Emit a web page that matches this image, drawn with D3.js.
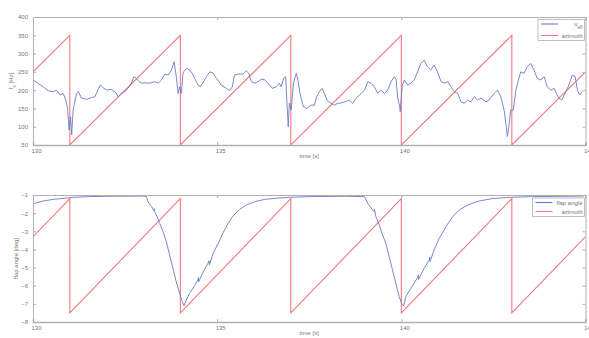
<!DOCTYPE html>
<html>
<head>
<meta charset="utf-8">
<script src="https://cdn.jsdelivr.net/npm/d3@7"></script>
<style>
  body { margin: 0; background: #fff; }
  svg { display: block; font-family: "Liberation Sans", Arial, sans-serif; }
  .tick text { fill: #777; font-size: 6px; }
  .lbl { fill: #777; font-size: 6px; }
</style>
</head>
<body>
<div id="chart"></div>
<script>
// ---- data ----
var xTicks = [130, 135, 140, 145];
var topYTicks = [50, 100, 150, 200, 250, 300, 350, 400];
var bottomYTicks = [-8, -7, -6, -5, -4, -3, -2, -1];

// azimuth sawtooth, breakpoints
var azTime = [130, 131, 131, 134, 134, 137, 137, 140, 140, 143, 143, 145];
var azTop = [250, 350, 50, 350, 50, 350, 50, 350, 50, 350, 50, 250];
var azBottom = [-3.3, -1.2, -7.5, -1.2, -7.5, -1.2, -7.5, -1.2, -7.5, -1.2, -7.5, -3.3];

var uTime = [130.01,130.14,130.28,130.41,130.55,130.64,130.73,130.82,130.89,130.94,130.98,131.02,131.05,131.09,131.18,131.23,131.32,131.46,131.59,131.68,131.77,131.83,131.92,132.01,132.13,132.25,132.31,132.40,132.49,132.58,132.67,132.74,132.81,132.88,132.95,133.04,133.17,133.31,133.40,133.49,133.58,133.67,133.76,133.83,133.89,133.94,133.98,134.03,134.07,134.09,134.18,134.30,134.39,134.48,134.54,134.63,134.71,134.80,134.89,134.98,135.05,135.11,135.25,135.34,135.41,135.47,135.56,135.70,135.79,135.86,135.93,136.02,136.11,136.20,136.29,136.38,136.50,136.60,136.69,136.74,136.80,136.86,136.89,136.93,136.96,137.01,137.07,137.15,137.19,137.25,137.34,137.43,137.55,137.64,137.70,137.78,137.85,137.91,137.98,138.09,138.18,138.27,138.32,138.46,138.59,138.68,138.77,138.91,139.00,139.09,139.18,139.27,139.36,139.45,139.54,139.63,139.72,139.81,139.86,139.90,139.95,139.97,140.02,140.08,140.17,140.26,140.35,140.44,140.53,140.62,140.71,140.80,140.89,140.98,141.08,141.17,141.26,141.35,141.44,141.53,141.62,141.71,141.80,141.89,141.98,142.07,142.16,142.30,142.38,142.52,142.61,142.70,142.79,142.85,142.88,142.93,142.97,143.04,143.11,143.18,143.24,143.33,143.42,143.51,143.60,143.69,143.79,143.88,143.96,144.06,144.15,144.21,144.28,144.36,144.44,144.53,144.64,144.72,144.78,144.84,144.91];
var uEff = [228,218,209,198,196,200,187,191,173,150,91,127,78,146,191,196,178,175,180,182,202,214,205,200,202,193,182,191,196,205,219,237,232,223,219,220,219,223,219,228,244,241,255,278,237,191,209,191,246,250,260,250,232,214,209,223,237,250,246,232,223,214,205,198,209,241,244,244,253,246,223,219,223,230,228,219,205,209,219,209,232,237,173,100,164,146,219,246,228,191,155,150,159,159,182,196,205,191,173,164,159,164,164,168,173,164,178,191,200,223,219,209,191,200,191,200,223,237,228,178,159,141,209,228,214,219,228,250,273,282,264,255,269,250,223,219,223,209,196,191,168,164,173,168,182,173,178,168,173,191,200,182,146,100,73,109,146,146,200,228,250,246,264,273,255,232,228,237,209,200,205,191,178,173,191,209,241,237,200,187,196];

var flapTime = [130.04,130.28,130.55,130.91,131.09,131.5,132.0,133.0,133.08,133.12,133.22,133.28,133.29,133.30,133.35,133.44,133.53,133.62,133.71,133.80,133.89,133.98,134.05,134.10,134.16,134.25,134.39,134.48,134.49,134.50,134.62,134.75,134.78,134.79,134.89,135.03,135.16,135.30,135.43,135.61,135.79,136.02,136.29,136.60,136.96,137.5,138.5,139.0,139.09,139.22,139.26,139.27,139.31,139.40,139.49,139.58,139.67,139.76,139.85,139.94,140.03,140.06,140.08,140.12,140.26,140.44,140.46,140.47,140.62,140.76,140.77,140.78,140.89,141.03,141.21,141.39,141.57,141.80,142.11,142.47,142.93,143.56,144.95];
var flapAngle = [-1.46,-1.33,-1.24,-1.17,-1.13,-1.09,-1.07,-1.06,-1.09,-1.37,-1.64,-1.86,-1.76,-1.92,-2.1,-2.56,-3.02,-3.57,-4.31,-5.04,-5.78,-6.42,-6.88,-7.1,-6.79,-6.42,-6.0,-5.69,-5.55,-5.78,-5.23,-4.77,-4.62,-4.85,-4.22,-3.66,-3.08,-2.56,-2.16,-1.79,-1.55,-1.37,-1.24,-1.18,-1.13,-1.09,-1.07,-1.09,-1.46,-1.83,-1.9,-1.78,-2.2,-2.65,-3.2,-3.66,-4.4,-5.13,-5.87,-6.6,-7.06,-7.12,-7.0,-6.6,-6.14,-5.55,-5.4,-5.65,-5.04,-4.58,-4.42,-4.66,-4.03,-3.39,-2.75,-2.2,-1.83,-1.55,-1.33,-1.2,-1.13,-1.09,-1.06];

var W = 589, H = 338;
var blue = "#6a7bc4", red = "#f37880", frame = "#b0b0b0";

var svg = d3.select("#chart").append("svg")
  .attr("width", W).attr("height", H);

var x = d3.scaleLinear().domain([130, 145]).range([33, 585.5]);

function drawPanel(id, top, bottom, yDomain, yTicks, series, yLabel, legendItems, legendBox) {
  var y = d3.scaleLinear().domain(yDomain).range([bottom, top]);
  var g = svg.append("g");

  g.append("clipPath").attr("id", id)
    .append("rect").attr("x", x.range()[0]).attr("y", top - 1)
    .attr("width", x.range()[1] - x.range()[0]).attr("height", bottom - top + 2);

  var line = d3.line().x(d => x(d[0])).y(d => y(d[1]));
  series.forEach(s => {
    g.append("path")
      .datum(d3.zip(s.t, s.v))
      .attr("clip-path", "url(#" + id + ")")
      .style("fill", "none")
      .style("stroke", s.color)
      .style("stroke-width", s.width)
      .attr("d", line);
  });

  // axes, ticks inward on all sides
  var ax = g.append("g").attr("transform", "translate(0," + bottom + ")")
    .call(d3.axisBottom(x).tickValues(xTicks).tickSize(-3).tickPadding(4).tickFormat(d3.format("d")));
  var axT = g.append("g").attr("transform", "translate(0," + top + ")")
    .call(d3.axisTop(x).tickValues(xTicks).tickSize(-3).tickFormat(""));
  var ay = g.append("g").attr("transform", "translate(" + x.range()[0] + ",0)")
    .call(d3.axisLeft(y).tickValues(yTicks).tickSize(-3).tickPadding(5).tickFormat(d3.format("d")));
  var ayR = g.append("g").attr("transform", "translate(" + x.range()[1] + ",0)")
    .call(d3.axisRight(y).tickValues(yTicks).tickSize(-3).tickFormat(""));
  [ax, axT, ay, ayR].forEach(a => {
    a.select(".domain").attr("stroke", frame);
    a.selectAll(".tick line").attr("stroke", frame);
  });
  ax.select(".domain").attr("stroke-width", 1.5);
  ax.selectAll(".tick text").attr("dx", 3);

  g.append("text").attr("class", "lbl")
    .attr("x", (x.range()[0] + x.range()[1]) / 2).attr("y", bottom + 13)
    .attr("text-anchor", "middle").text("time [s]");

  var yl = g.append("text").attr("class", "lbl")
    .attr("transform", "translate(" + yLabel.x + "," + (top + bottom) / 2 + ") rotate(-90)")
    .attr("text-anchor", "middle");
  yLabel.parts.forEach(p => {
    var ts = yl.append("tspan").text(p.text);
    if (p.sub) ts.attr("baseline-shift", "sub").attr("font-size", "4.5px");
  });

  // legend
  var lg = g.append("g");
  lg.append("rect").attr("x", legendBox.x).attr("y", legendBox.y)
    .attr("width", legendBox.w).attr("height", legendBox.h)
    .attr("fill", "#fff").attr("stroke", frame).attr("stroke-width", 0.8);
  legendItems.forEach((it, i) => {
    var ly = legendBox.y + 4.5 + i * legendBox.step;
    lg.append("line").attr("x1", legendBox.x + 3).attr("x2", legendBox.x + 20)
      .attr("y1", ly).attr("y2", ly).style("stroke", it.color).style("stroke-width", 1.1);
    var t = lg.append("text").attr("class", "lbl")
      .attr("x", legendBox.x + legendBox.w - 2).attr("y", ly + 2)
      .attr("text-anchor", "end");
    it.parts.forEach(p => {
      var ts = t.append("tspan").text(p.text);
      if (p.sub) ts.attr("baseline-shift", "sub").attr("font-size", "4.5px");
    });
  });
}

drawPanel("clipTop", 17, 145, [50, 400], topYTicks,
  [{t: azTime, v: azTop, color: red, width: 1.1}, {t: uTime, v: uEff, color: blue, width: 0.9}],
  {x: 13, parts: [{text: "f"}, {text: "s", sub: true}, {text: " [Hz]"}]},
  [{color: blue, parts: [{text: "u"}, {text: "eff", sub: true}]},
   {color: red, parts: [{text: "azimuth"}]}],
  {x: 538, y: 19.5, w: 46.5, h: 21, step: 11.5});

drawPanel("clipBot", 195, 322, [-8, -1], bottomYTicks,
  [{t: azTime, v: azBottom, color: red, width: 1.1}, {t: flapTime, v: flapAngle, color: blue, width: 0.9}],
  {x: 18, parts: [{text: "flap angle [deg]"}]},
  [{color: blue, parts: [{text: "flap angle"}]},
   {color: red, parts: [{text: "azimuth"}]}],
  {x: 532.5, y: 198, w: 52, h: 18.5, step: 9});
</script>
</body>
</html>
